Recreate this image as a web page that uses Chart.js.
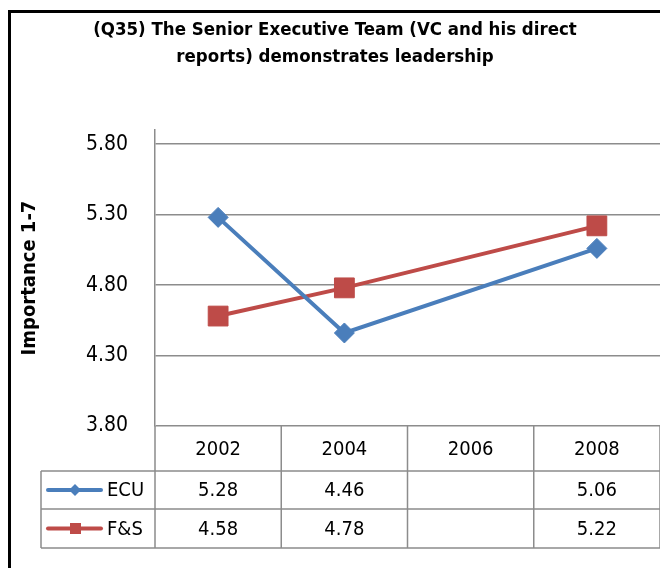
<!DOCTYPE html>
<html>
<head>
<meta charset="utf-8">
<script src="https://cdn.jsdelivr.net/npm/chart.js@4/dist/chart.umd.min.js"></script>
<style>
  body { margin: 0; background: #fff; }
  #wrap { width: 660px; height: 568px; }
</style>
</head>
<body>
<div id="wrap"><canvas id="chart" width="660" height="568"></canvas></div>
<script>
// chart data
const years = ["2002", "2004", "2006", "2008"];
const ecuValues = [5.28, 4.46, null, 5.06];
const fsValues = [4.58, 4.78, null, 5.22];
const yTicks = [3.8, 4.3, 4.8, 5.3, 5.8];
const seriesNames = ["ECU", "F&S"];
const titleLines = [
  "(Q35) The Senior Executive Team (VC and his direct",
  "reports) demonstrates leadership",
];

const FONT = '"Liberation Sans Narrow", "Arial Narrow", "DejaVu Sans Condensed", sans-serif';
const blue = "#4a7ebb";
const red = "#be4b48";
const gridGray = "#8c8c8c";

// frame, title and data table drawn around the plot
const extrasPlugin = {
  id: "extras",
  afterDraw(chart) {
    const ctx = chart.ctx;
    const area = chart.chartArea;
    const xScale = chart.scales.x;
    ctx.save();

    // outer frame
    ctx.strokeStyle = "#000";
    ctx.lineWidth = 3;
    ctx.strokeRect(9.5, 11.5, 700, 600);

    // title
    ctx.fillStyle = "#000";
    ctx.font = "bold 18.5px " + FONT;
    ctx.textAlign = "center";
    ctx.textBaseline = "middle";
    ctx.fillText(titleLines[0], 335, 30);
    ctx.fillText(titleLines[1], 335, 57);

    // data table
    const colW = (area.right - area.left) / years.length;
    const rowTops = [area.bottom, 471, 509, 548];
    const tableLeft = 41;
    ctx.strokeStyle = gridGray;
    ctx.lineWidth = 1.5;
    ctx.beginPath();
    for (let i = 0; i <= years.length; i++) {
      const x = area.left + i * colW;
      ctx.moveTo(x, rowTops[0]);
      ctx.lineTo(x, rowTops[3]);
    }
    ctx.moveTo(tableLeft, rowTops[1]);
    ctx.lineTo(tableLeft, rowTops[3]);
    for (let r = 1; r < rowTops.length; r++) {
      ctx.moveTo(tableLeft, rowTops[r]);
      ctx.lineTo(area.right + 2, rowTops[r]);
    }
    ctx.stroke();

    ctx.fillStyle = "#000";
    ctx.font = "20px " + FONT;
    ctx.textAlign = "center";
    const rowMid = (r) => (rowTops[r] + rowTops[r + 1]) / 2 + 1;
    years.forEach((y, i) => {
      ctx.fillText(y, xScale.getPixelForValue(i), rowMid(0));
    });
    [ecuValues, fsValues].forEach((vals, r) => {
      vals.forEach((v, i) => {
        if (v !== null) ctx.fillText(v.toFixed(2), xScale.getPixelForValue(i), rowMid(r + 1));
      });
    });

    // legend keys in the row headers
    [blue, red].forEach((color, r) => {
      const y = rowMid(r + 1) - 1;
      ctx.strokeStyle = color;
      ctx.lineWidth = 4;
      ctx.lineCap = "round";
      ctx.beginPath();
      ctx.moveTo(48, y);
      ctx.lineTo(101, y);
      ctx.stroke();
      ctx.fillStyle = color;
      ctx.beginPath();
      if (r === 0) {
        ctx.moveTo(75, y - 6);
        ctx.lineTo(81, y);
        ctx.lineTo(75, y + 6);
        ctx.lineTo(69, y);
      } else {
        ctx.rect(70, y - 5.5, 11, 11);
      }
      ctx.fill();
      ctx.fillStyle = "#000";
      ctx.textAlign = "left";
      ctx.fillText(seriesNames[r], 107, y + 1);
    });
    ctx.restore();
  },
};

new Chart(document.getElementById("chart"), {
  type: "line",
  data: {
    labels: years,
    datasets: [
      {
        label: seriesNames[0],
        data: ecuValues,
        borderColor: blue,
        backgroundColor: blue,
        borderWidth: 4,
        pointStyle: "rectRot",
        pointRadius: 10,
        pointBorderWidth: 1,
        spanGaps: true,
      },
      {
        label: seriesNames[1],
        data: fsValues,
        borderColor: red,
        backgroundColor: red,
        borderWidth: 4,
        pointStyle: "rect",
        pointRadius: 14,
        pointBorderWidth: 1,
        spanGaps: true,
      },
    ],
  },
  options: {
    responsive: false,
    animation: false,
    layout: { autoPadding: false, padding: { top: 130, left: 12, right: 0, bottom: 142 } },
    plugins: {
      legend: { display: false },
      title: { display: false },
      tooltip: { enabled: false },
    },
    scales: {
      x: {
        display: false,
        offset: true,
      },
      y: {
        min: 3.8,
        max: 5.9,
        afterBuildTicks(scale) {
          scale.ticks = yTicks.map((v) => ({ value: v }));
        },
        afterFit(scale) {
          scale.width = 143;
        },
        grid: { color: gridGray, lineWidth: 1.5, drawTicks: false },
        border: { display: true, color: gridGray, width: 1.5 },
        ticks: {
          padding: 27,
          color: "#000",
          font: { family: FONT, size: 21 },
          callback: (v) => Number(v).toFixed(2),
        },
        title: {
          display: true,
          text: "Importance 1-7",
          color: "#000",
          font: { family: FONT, size: 20, weight: "bold" },
          padding: { top: 6, bottom: 0 },
        },
      },
    },
  },
  plugins: [extrasPlugin],
});
</script>
</body>
</html>
